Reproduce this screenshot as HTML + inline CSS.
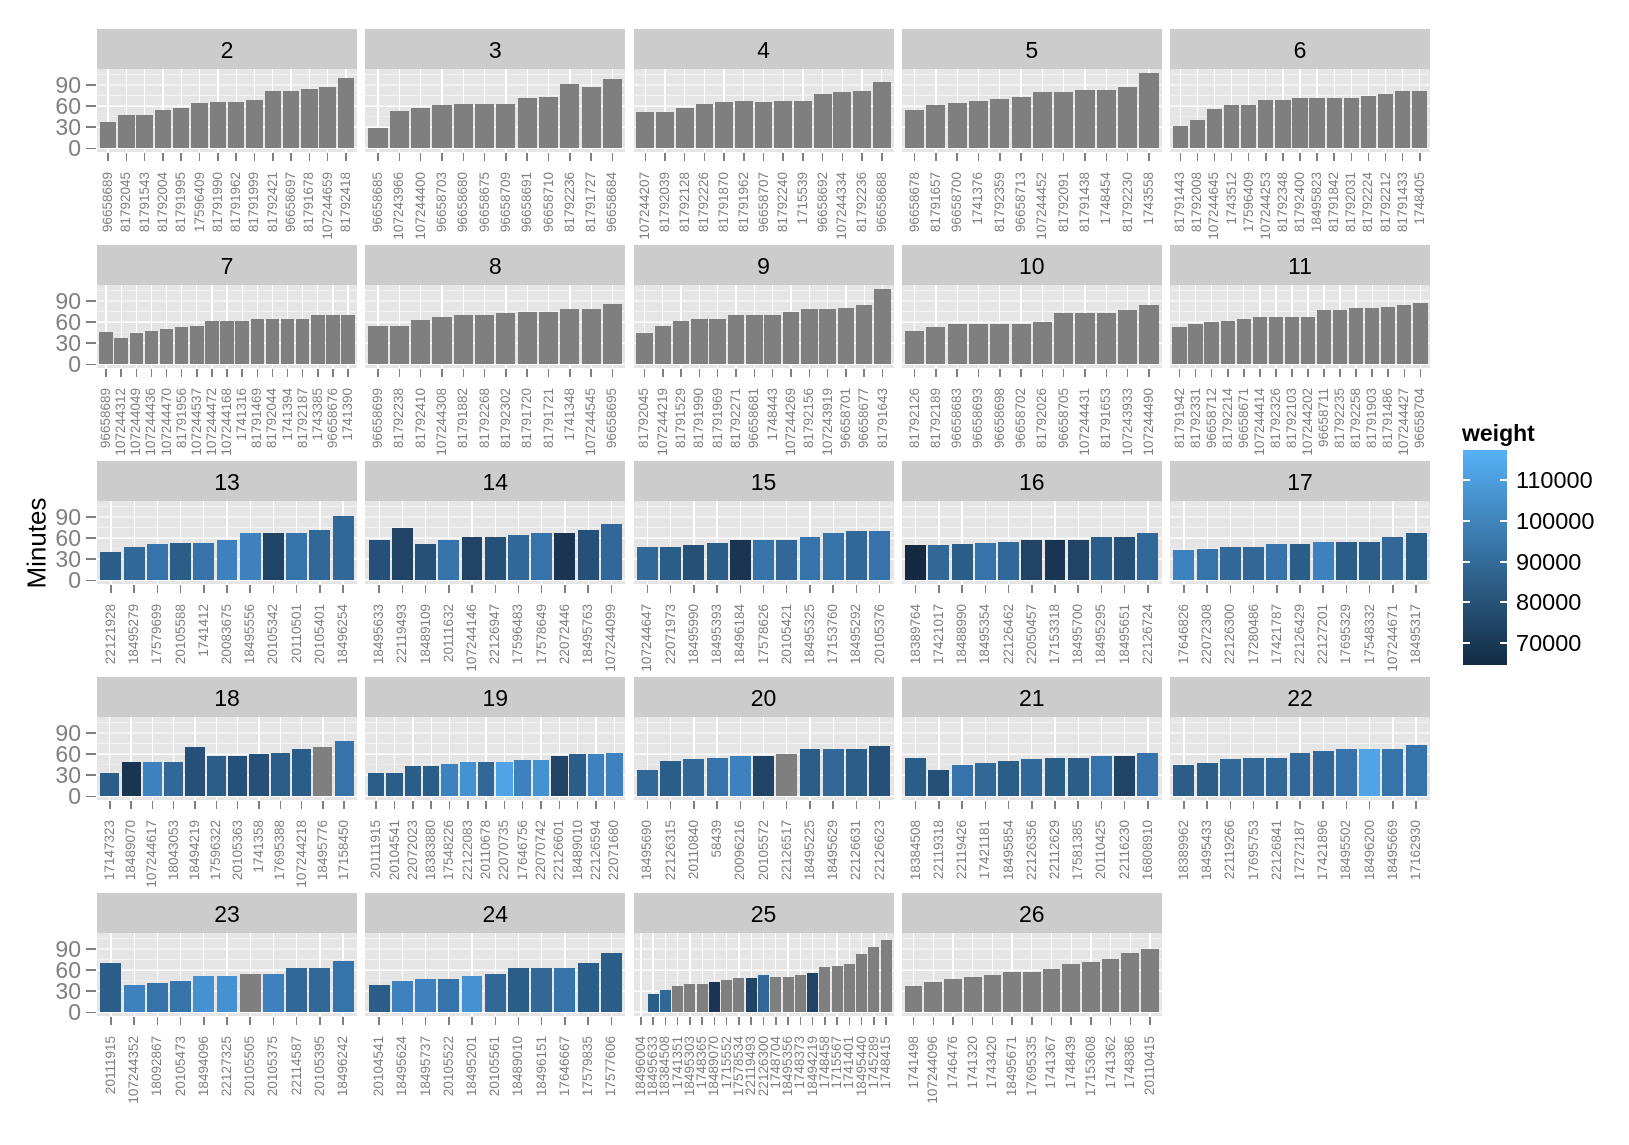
<!DOCTYPE html>
<html><head><meta charset="utf-8"><style>
body{margin:0;background:#fff;width:1629px;height:1145px;overflow:hidden;position:relative;font-family:"Liberation Sans",Arial,sans-serif}
.p{position:absolute;width:260px;height:200px}
.s{position:absolute;left:0;top:0;width:260px;height:40px;background:#ccc;text-align:center;font-size:23px;line-height:42px;color:#000}
.a{position:absolute;left:0;top:40px;width:260px;height:83px;background:#e5e5e5;overflow:hidden}
.g{position:absolute;left:0;right:0;top:0;bottom:3.05px;background:repeating-linear-gradient(to top,#fff 0 1.3px,transparent 1.3px 21.1px),repeating-linear-gradient(to top,transparent 0 10.9px,#f4f4f4 10.9px 11.6px,transparent 11.6px 21.1px)}
.b{position:absolute;left:0;right:0;top:0;bottom:0;display:flex}
.b i{flex:1 1 0;min-width:0;position:relative}
.b i::before{content:"";position:absolute;left:50%;margin-left:-.65px;width:1.3px;top:0;bottom:0;background:#fff}
.b i::after{content:"";position:absolute;left:5%;width:90%;bottom:3.7px;height:calc(var(--v)*0.7033px);background:var(--c,#7f7f7f)}
.x{position:absolute;left:0;top:123px;width:260px;display:flex;box-sizing:border-box}
.b,.x{box-sizing:border-box}
.x span{flex:1 1 0;min-width:0;display:flex;justify-content:center;align-items:flex-start;position:relative;padding-top:20px}
.x span::before{content:"";position:absolute;left:50%;margin-left:-.75px;width:1.5px;top:1px;height:8px;background:#7f7f7f}
.x em{flex:none;font-style:normal;writing-mode:vertical-rl;transform:rotate(180deg);font-size:13.5px;line-height:14px;color:#7f7f7f;white-space:nowrap}
.n11{padding:0 2.32px}.n12{padding:0 2.13px}.n13{padding:0 1.97px}.n14{padding:0 1.83px}.n15{padding:0 1.71px}.n16{padding:0 1.6px}.n17{padding:0 1.51px}.n21{padding:0 1.23px}
.yl{position:absolute;left:-64px;width:48px;text-align:right;font-size:23px;line-height:26px;color:#7f7f7f}
.yt{position:absolute;left:-11px;width:10px;height:1.5px;background:#7f7f7f}
.d1{--c:#1a3552}.d2{--c:#1f4466}.d3{--c:#255077}.m1{--c:#2b5d89}.m2{--c:#316898}.m3{--c:#3673aa}.l1{--c:#3d82bf}.l2{--c:#4592d2}.l3{--c:#4fa3e6}
</style></head><body>

<div style="position:absolute;left:37px;top:543px;transform:translate(-50%,-50%) rotate(-90deg);font-size:26px;color:#000;white-space:nowrap">Minutes</div>

<!-- legend -->
<div style="position:absolute;left:1462px;top:420px;font-size:23px;font-weight:bold;color:#000">weight</div>
<div style="position:absolute;left:1463px;top:450px;width:44px;height:215px;background:linear-gradient(to bottom,#56b1f7,#132b43)"></div>
<div style="position:absolute;left:1463px;top:479px;width:7px;height:1.5px;background:#fff"></div><div style="position:absolute;left:1500px;top:479px;width:7px;height:1.5px;background:#fff"></div>
<div style="position:absolute;left:1463px;top:520px;width:7px;height:1.5px;background:#fff"></div><div style="position:absolute;left:1500px;top:520px;width:7px;height:1.5px;background:#fff"></div>
<div style="position:absolute;left:1463px;top:561px;width:7px;height:1.5px;background:#fff"></div><div style="position:absolute;left:1500px;top:561px;width:7px;height:1.5px;background:#fff"></div>
<div style="position:absolute;left:1463px;top:601px;width:7px;height:1.5px;background:#fff"></div><div style="position:absolute;left:1500px;top:601px;width:7px;height:1.5px;background:#fff"></div>
<div style="position:absolute;left:1463px;top:642px;width:7px;height:1.5px;background:#fff"></div><div style="position:absolute;left:1500px;top:642px;width:7px;height:1.5px;background:#fff"></div>
<div style="position:absolute;left:1516px;top:466px;font-size:23.5px;line-height:28px;color:#000">110000</div>
<div style="position:absolute;left:1516px;top:507px;font-size:23.5px;line-height:28px;color:#000">100000</div>
<div style="position:absolute;left:1516px;top:548px;font-size:23.5px;line-height:28px;color:#000">90000</div>
<div style="position:absolute;left:1516px;top:588px;font-size:23.5px;line-height:28px;color:#000">80000</div>
<div style="position:absolute;left:1516px;top:629px;font-size:23.5px;line-height:28px;color:#000">70000</div>

<!-- ROW 0 -->
<div class="p" style="left:97px;top:29px"><div class="s">2</div><div class="a"><div class="g"></div><div class="b n14"><i style="--v:37"></i><i style="--v:47"></i><i style="--v:47"></i><i style="--v:55"></i><i style="--v:58"></i><i style="--v:64"></i><i style="--v:66"></i><i style="--v:66"></i><i style="--v:69"></i><i style="--v:82"></i><i style="--v:82"></i><i style="--v:85"></i><i style="--v:87"></i><i style="--v:100"></i></div></div>
<div class="x n14"><span><em>96658689</em></span><span><em>81792045</em></span><span><em>81791543</em></span><span><em>81792004</em></span><span><em>81791995</em></span><span><em>17596409</em></span><span><em>81791990</em></span><span><em>81791962</em></span><span><em>81791999</em></span><span><em>81792421</em></span><span><em>96658697</em></span><span><em>81791678</em></span><span><em>107244659</em></span><span><em>81792418</em></span></div>
<div class="yl" style="top:106px">0</div><div class="yl" style="top:85px">30</div><div class="yl" style="top:64px">60</div><div class="yl" style="top:43px">90</div>
<div class="yt" style="top:118.5px"></div><div class="yt" style="top:97.4px"></div><div class="yt" style="top:76.3px"></div><div class="yt" style="top:55.2px"></div></div>

<div class="p" style="left:365.25px;top:29px"><div class="s">3</div><div class="a"><div class="g"></div><div class="b n12"><i style="--v:29"></i><i style="--v:53"></i><i style="--v:58"></i><i style="--v:61"></i><i style="--v:63"></i><i style="--v:63"></i><i style="--v:63"></i><i style="--v:71"></i><i style="--v:73"></i><i style="--v:92"></i><i style="--v:87"></i><i style="--v:98"></i></div></div>
<div class="x n12"><span><em>96658685</em></span><span><em>107243966</em></span><span><em>107244400</em></span><span><em>96658703</em></span><span><em>96658680</em></span><span><em>96658675</em></span><span><em>96658709</em></span><span><em>96658691</em></span><span><em>96658710</em></span><span><em>81792236</em></span><span><em>81791727</em></span><span><em>96658684</em></span></div></div>

<div class="p" style="left:633.5px;top:29px"><div class="s">4</div><div class="a"><div class="g"></div><div class="b n13"><i style="--v:52"></i><i style="--v:52"></i><i style="--v:58"></i><i style="--v:63"></i><i style="--v:66"></i><i style="--v:68"></i><i style="--v:66"></i><i style="--v:68"></i><i style="--v:68"></i><i style="--v:77"></i><i style="--v:80"></i><i style="--v:82"></i><i style="--v:95"></i></div></div>
<div class="x n13"><span><em>107244207</em></span><span><em>81792039</em></span><span><em>81792128</em></span><span><em>81792226</em></span><span><em>81791870</em></span><span><em>81791962</em></span><span><em>96658707</em></span><span><em>81792240</em></span><span><em>1715539</em></span><span><em>96658692</em></span><span><em>107244334</em></span><span><em>81792236</em></span><span><em>96658688</em></span></div></div>

<div class="p" style="left:901.75px;top:29px"><div class="s">5</div><div class="a"><div class="g"></div><div class="b n12"><i style="--v:55"></i><i style="--v:62"></i><i style="--v:65"></i><i style="--v:67"></i><i style="--v:70"></i><i style="--v:73"></i><i style="--v:80"></i><i style="--v:80"></i><i style="--v:83"></i><i style="--v:83"></i><i style="--v:87"></i><i style="--v:107"></i></div></div>
<div class="x n12"><span><em>96658678</em></span><span><em>81791657</em></span><span><em>96658700</em></span><span><em>1741376</em></span><span><em>81792359</em></span><span><em>96658713</em></span><span><em>107244452</em></span><span><em>81792091</em></span><span><em>81791438</em></span><span><em>1748454</em></span><span><em>81792230</em></span><span><em>1743558</em></span></div></div>

<div class="p" style="left:1170px;top:29px"><div class="s">6</div><div class="a"><div class="g"></div><div class="b n15"><i style="--v:32"></i><i style="--v:40"></i><i style="--v:56"></i><i style="--v:61"></i><i style="--v:61"></i><i style="--v:69"></i><i style="--v:69"></i><i style="--v:71"></i><i style="--v:71"></i><i style="--v:71"></i><i style="--v:71"></i><i style="--v:74"></i><i style="--v:77"></i><i style="--v:82"></i><i style="--v:82"></i></div></div>
<div class="x n15"><span><em>81791443</em></span><span><em>81792008</em></span><span><em>107244645</em></span><span><em>1743512</em></span><span><em>17596409</em></span><span><em>107244253</em></span><span><em>81792348</em></span><span><em>81792400</em></span><span><em>18495823</em></span><span><em>81791842</em></span><span><em>81792031</em></span><span><em>81792224</em></span><span><em>81792212</em></span><span><em>81791433</em></span><span><em>1748405</em></span></div></div>

<!-- ROW 1 -->
<div class="p" style="left:97px;top:245px"><div class="s">7</div><div class="a"><div class="g"></div><div class="b n17"><i style="--v:46"></i><i style="--v:38"></i><i style="--v:44"></i><i style="--v:47"></i><i style="--v:50"></i><i style="--v:53"></i><i style="--v:55"></i><i style="--v:62"></i><i style="--v:62"></i><i style="--v:62"></i><i style="--v:65"></i><i style="--v:65"></i><i style="--v:65"></i><i style="--v:65"></i><i style="--v:70"></i><i style="--v:70"></i><i style="--v:70"></i></div></div>
<div class="x n17"><span><em>96658689</em></span><span><em>107244312</em></span><span><em>107244049</em></span><span><em>107244436</em></span><span><em>107244470</em></span><span><em>81791956</em></span><span><em>107244537</em></span><span><em>107244472</em></span><span><em>107244168</em></span><span><em>1741316</em></span><span><em>81791469</em></span><span><em>81792044</em></span><span><em>1741394</em></span><span><em>81792187</em></span><span><em>1743385</em></span><span><em>96658676</em></span><span><em>1741390</em></span></div>
<div class="yl" style="top:106px">0</div><div class="yl" style="top:85px">30</div><div class="yl" style="top:64px">60</div><div class="yl" style="top:43px">90</div>
<div class="yt" style="top:118.5px"></div><div class="yt" style="top:97.4px"></div><div class="yt" style="top:76.3px"></div><div class="yt" style="top:55.2px"></div></div>

<div class="p" style="left:365.25px;top:245px"><div class="s">8</div><div class="a"><div class="g"></div><div class="b n12"><i style="--v:55"></i><i style="--v:55"></i><i style="--v:63"></i><i style="--v:68"></i><i style="--v:70"></i><i style="--v:70"></i><i style="--v:73"></i><i style="--v:75"></i><i style="--v:75"></i><i style="--v:78"></i><i style="--v:78"></i><i style="--v:86"></i></div></div>
<div class="x n12"><span><em>96658699</em></span><span><em>81792238</em></span><span><em>81792410</em></span><span><em>107244308</em></span><span><em>81791882</em></span><span><em>81792268</em></span><span><em>81792302</em></span><span><em>81791720</em></span><span><em>81791721</em></span><span><em>1741348</em></span><span><em>107244545</em></span><span><em>96658695</em></span></div></div>

<div class="p" style="left:633.5px;top:245px"><div class="s">9</div><div class="a"><div class="g"></div><div class="b n14"><i style="--v:45"></i><i style="--v:55"></i><i style="--v:62"></i><i style="--v:65"></i><i style="--v:65"></i><i style="--v:70"></i><i style="--v:70"></i><i style="--v:70"></i><i style="--v:75"></i><i style="--v:78"></i><i style="--v:78"></i><i style="--v:80"></i><i style="--v:85"></i><i style="--v:107"></i></div></div>
<div class="x n14"><span><em>81792045</em></span><span><em>107244219</em></span><span><em>81791529</em></span><span><em>81791990</em></span><span><em>81791969</em></span><span><em>81792271</em></span><span><em>96658681</em></span><span><em>1748443</em></span><span><em>107244269</em></span><span><em>81792156</em></span><span><em>107243919</em></span><span><em>96658701</em></span><span><em>96658677</em></span><span><em>81791643</em></span></div></div>

<div class="p" style="left:901.75px;top:245px"><div class="s">10</div><div class="a"><div class="g"></div><div class="b n12"><i style="--v:47"></i><i style="--v:53"></i><i style="--v:57"></i><i style="--v:57"></i><i style="--v:57"></i><i style="--v:57"></i><i style="--v:60"></i><i style="--v:73"></i><i style="--v:73"></i><i style="--v:73"></i><i style="--v:77"></i><i style="--v:85"></i></div></div>
<div class="x n12"><span><em>81792126</em></span><span><em>81792189</em></span><span><em>96658683</em></span><span><em>96658693</em></span><span><em>96658698</em></span><span><em>96658702</em></span><span><em>81792026</em></span><span><em>96658705</em></span><span><em>107244431</em></span><span><em>81791653</em></span><span><em>107243933</em></span><span><em>107244490</em></span></div></div>

<div class="p" style="left:1170px;top:245px"><div class="s">11</div><div class="a"><div class="g"></div><div class="b n16"><i style="--v:53"></i><i style="--v:57"></i><i style="--v:60"></i><i style="--v:62"></i><i style="--v:65"></i><i style="--v:67"></i><i style="--v:67"></i><i style="--v:67"></i><i style="--v:67"></i><i style="--v:77"></i><i style="--v:77"></i><i style="--v:80"></i><i style="--v:80"></i><i style="--v:82"></i><i style="--v:85"></i><i style="--v:87"></i></div></div>
<div class="x n16"><span><em>81791942</em></span><span><em>81792331</em></span><span><em>96658712</em></span><span><em>81792214</em></span><span><em>96658671</em></span><span><em>107244414</em></span><span><em>81792326</em></span><span><em>81792103</em></span><span><em>107244202</em></span><span><em>96658711</em></span><span><em>81792235</em></span><span><em>81792258</em></span><span><em>81791903</em></span><span><em>81791486</em></span><span><em>107244427</em></span><span><em>96658704</em></span></div></div>

<!-- ROW 2 -->
<div class="p" style="left:97px;top:461px"><div class="s">13</div><div class="a"><div class="g"></div><div class="b n11"><i class="m1" style="--v:40"></i><i class="m2" style="--v:48"></i><i class="m3" style="--v:52"></i><i class="m1" style="--v:53"></i><i class="m3" style="--v:53"></i><i class="l1" style="--v:58"></i><i class="l1" style="--v:67"></i><i class="d2" style="--v:68"></i><i class="m3" style="--v:68"></i><i class="m2" style="--v:72"></i><i class="m2" style="--v:92"></i></div></div>
<div class="x n11"><span><em>22121928</em></span><span><em>18495279</em></span><span><em>17579699</em></span><span><em>20105588</em></span><span><em>1741412</em></span><span><em>20083675</em></span><span><em>18495556</em></span><span><em>20105342</em></span><span><em>20110501</em></span><span><em>20105401</em></span><span><em>18496254</em></span></div>
<div class="yl" style="top:106px">0</div><div class="yl" style="top:85px">30</div><div class="yl" style="top:64px">60</div><div class="yl" style="top:43px">90</div>
<div class="yt" style="top:118.5px"></div><div class="yt" style="top:97.4px"></div><div class="yt" style="top:76.3px"></div><div class="yt" style="top:55.2px"></div></div>

<div class="p" style="left:365.25px;top:461px"><div class="s">14</div><div class="a"><div class="g"></div><div class="b n11"><i class="d3" style="--v:58"></i><i class="d2" style="--v:75"></i><i class="d3" style="--v:52"></i><i class="m3" style="--v:57"></i><i class="d2" style="--v:62"></i><i class="d3" style="--v:62"></i><i class="m2" style="--v:65"></i><i class="m3" style="--v:67"></i><i class="d1" style="--v:67"></i><i class="d3" style="--v:72"></i><i class="m2" style="--v:80"></i></div></div>
<div class="x n11"><span><em>18495633</em></span><span><em>22119493</em></span><span><em>18489109</em></span><span><em>20111632</em></span><span><em>107244146</em></span><span><em>22126947</em></span><span><em>17596483</em></span><span><em>17578649</em></span><span><em>22072446</em></span><span><em>18495763</em></span><span><em>107244099</em></span></div></div>

<div class="p" style="left:633.5px;top:461px"><div class="s">15</div><div class="a"><div class="g"></div><div class="b n11"><i class="m2" style="--v:47"></i><i class="m1" style="--v:47"></i><i class="d3" style="--v:50"></i><i class="m1" style="--v:53"></i><i class="d1" style="--v:58"></i><i class="m3" style="--v:58"></i><i class="m2" style="--v:58"></i><i class="m3" style="--v:62"></i><i class="m3" style="--v:68"></i><i class="m2" style="--v:70"></i><i class="m3" style="--v:70"></i></div></div>
<div class="x n11"><span><em>107244647</em></span><span><em>22071973</em></span><span><em>18495990</em></span><span><em>18495393</em></span><span><em>18496184</em></span><span><em>17578626</em></span><span><em>20105421</em></span><span><em>18495325</em></span><span><em>17153760</em></span><span><em>18495292</em></span><span><em>20105376</em></span></div></div>

<div class="p" style="left:901.75px;top:461px"><div class="s">16</div><div class="a"><div class="g"></div><div class="b n11"><i style="--v:50;--c:#152a40"></i><i class="m2" style="--v:50"></i><i class="m1" style="--v:52"></i><i class="m3" style="--v:53"></i><i class="m2" style="--v:55"></i><i class="d2" style="--v:57"></i><i class="d1" style="--v:57"></i><i class="d2" style="--v:57"></i><i class="m1" style="--v:62"></i><i class="d3" style="--v:62"></i><i class="m2" style="--v:68"></i></div></div>
<div class="x n11"><span><em>18389764</em></span><span><em>17421017</em></span><span><em>18488990</em></span><span><em>18495354</em></span><span><em>22126462</em></span><span><em>22050457</em></span><span><em>17153318</em></span><span><em>18495700</em></span><span><em>18495295</em></span><span><em>18495651</em></span><span><em>22126724</em></span></div></div>

<div class="p" style="left:1170px;top:461px"><div class="s">17</div><div class="a"><div class="g"></div><div class="b n11"><i class="l1" style="--v:43"></i><i class="m3" style="--v:45"></i><i class="m2" style="--v:48"></i><i class="m2" style="--v:48"></i><i class="m3" style="--v:51"></i><i class="m1" style="--v:51"></i><i class="l1" style="--v:55"></i><i class="m1" style="--v:55"></i><i class="m1" style="--v:55"></i><i class="m2" style="--v:61"></i><i class="m1" style="--v:68"></i></div></div>
<div class="x n11"><span><em>17646826</em></span><span><em>22072308</em></span><span><em>22126300</em></span><span><em>17280486</em></span><span><em>17421787</em></span><span><em>22126429</em></span><span><em>22127201</em></span><span><em>17695329</em></span><span><em>17548332</em></span><span><em>107244671</em></span><span><em>18495317</em></span></div></div>

<!-- ROW 3 -->
<div class="p" style="left:97px;top:677px"><div class="s">18</div><div class="a"><div class="g"></div><div class="b n12"><i class="m1" style="--v:33"></i><i class="d1" style="--v:49"></i><i class="l1" style="--v:49"></i><i class="m2" style="--v:49"></i><i class="d3" style="--v:70"></i><i class="m1" style="--v:58"></i><i class="d3" style="--v:58"></i><i class="d3" style="--v:60"></i><i class="m1" style="--v:62"></i><i class="m1" style="--v:68"></i><i style="--v:70"></i><i class="m3" style="--v:78"></i></div></div>
<div class="x n12"><span><em>17147323</em></span><span><em>18489070</em></span><span><em>107244617</em></span><span><em>18043053</em></span><span><em>18494219</em></span><span><em>17596322</em></span><span><em>20105363</em></span><span><em>1741358</em></span><span><em>17695388</em></span><span><em>107244218</em></span><span><em>18495776</em></span><span><em>17158450</em></span></div>
<div class="yl" style="top:106px">0</div><div class="yl" style="top:85px">30</div><div class="yl" style="top:64px">60</div><div class="yl" style="top:43px">90</div>
<div class="yt" style="top:118.5px"></div><div class="yt" style="top:97.4px"></div><div class="yt" style="top:76.3px"></div><div class="yt" style="top:55.2px"></div></div>

<div class="p" style="left:365.25px;top:677px"><div class="s">19</div><div class="a"><div class="g"></div><div class="b n14"><i class="m1" style="--v:33"></i><i class="m1" style="--v:33"></i><i class="m1" style="--v:43"></i><i class="m1" style="--v:43"></i><i class="l1" style="--v:46"></i><i class="l2" style="--v:49"></i><i class="m2" style="--v:49"></i><i class="l3" style="--v:49"></i><i class="l1" style="--v:52"></i><i class="l2" style="--v:52"></i><i class="d2" style="--v:58"></i><i class="m1" style="--v:60"></i><i class="l1" style="--v:60"></i><i class="l1" style="--v:62"></i></div></div>
<div class="x n14"><span><em>20111915</em></span><span><em>20104541</em></span><span><em>22072023</em></span><span><em>18383880</em></span><span><em>17548226</em></span><span><em>22122083</em></span><span><em>20110678</em></span><span><em>22070735</em></span><span><em>17646756</em></span><span><em>22070742</em></span><span><em>22126601</em></span><span><em>18489010</em></span><span><em>22126594</em></span><span><em>22071680</em></span></div></div>

<div class="p" style="left:633.5px;top:677px"><div class="s">20</div><div class="a"><div class="g"></div><div class="b n11"><i class="m2" style="--v:38"></i><i class="m1" style="--v:50"></i><i class="m2" style="--v:53"></i><i class="m3" style="--v:55"></i><i class="l1" style="--v:58"></i><i class="d2" style="--v:58"></i><i style="--v:60"></i><i class="m1" style="--v:67"></i><i class="m2" style="--v:67"></i><i class="m1" style="--v:67"></i><i class="d3" style="--v:72"></i></div></div>
<div class="x n11"><span><em>18495690</em></span><span><em>22126315</em></span><span><em>20110840</em></span><span><em>58439</em></span><span><em>20096216</em></span><span><em>20105572</em></span><span><em>22126517</em></span><span><em>18495225</em></span><span><em>18495629</em></span><span><em>22126631</em></span><span><em>22126623</em></span></div></div>

<div class="p" style="left:901.75px;top:677px"><div class="s">21</div><div class="a"><div class="g"></div><div class="b n11"><i class="m1" style="--v:55"></i><i class="d3" style="--v:38"></i><i class="m3" style="--v:45"></i><i class="m2" style="--v:48"></i><i class="m1" style="--v:50"></i><i class="m2" style="--v:53"></i><i class="m1" style="--v:55"></i><i class="m1" style="--v:55"></i><i class="m3" style="--v:57"></i><i class="d2" style="--v:57"></i><i class="m3" style="--v:62"></i></div></div>
<div class="x n11"><span><em>18384508</em></span><span><em>22119318</em></span><span><em>22119426</em></span><span><em>17421181</em></span><span><em>18495854</em></span><span><em>22126356</em></span><span><em>22112629</em></span><span><em>17581385</em></span><span><em>20110425</em></span><span><em>22116230</em></span><span><em>16808910</em></span></div></div>

<div class="p" style="left:1170px;top:677px"><div class="s">22</div><div class="a"><div class="g"></div><div class="b n11"><i class="m1" style="--v:45"></i><i class="m1" style="--v:48"></i><i class="m2" style="--v:53"></i><i class="m2" style="--v:55"></i><i class="m2" style="--v:55"></i><i class="m2" style="--v:62"></i><i class="m2" style="--v:65"></i><i class="m3" style="--v:67"></i><i class="l3" style="--v:67"></i><i class="m3" style="--v:67"></i><i class="m3" style="--v:73"></i></div></div>
<div class="x n11"><span><em>18389962</em></span><span><em>18495433</em></span><span><em>22119266</em></span><span><em>17695753</em></span><span><em>22126841</em></span><span><em>17272187</em></span><span><em>17421896</em></span><span><em>18495502</em></span><span><em>18496200</em></span><span><em>18495669</em></span><span><em>17162930</em></span></div></div>

<!-- ROW 4 -->
<div class="p" style="left:97px;top:893px"><div class="s">23</div><div class="a"><div class="g"></div><div class="b n11"><i class="m1" style="--v:70"></i><i class="l1" style="--v:39"></i><i class="m3" style="--v:41"></i><i class="m3" style="--v:44"></i><i class="l2" style="--v:52"></i><i class="l2" style="--v:52"></i><i style="--v:55"></i><i class="l1" style="--v:55"></i><i class="m2" style="--v:63"></i><i class="m2" style="--v:63"></i><i class="m3" style="--v:73"></i></div></div>
<div class="x n11"><span><em>20111915</em></span><span><em>107244352</em></span><span><em>18092867</em></span><span><em>20105473</em></span><span><em>18494096</em></span><span><em>22127325</em></span><span><em>20105505</em></span><span><em>20105375</em></span><span><em>22114587</em></span><span><em>20105395</em></span><span><em>18496242</em></span></div>
<div class="yl" style="top:106px">0</div><div class="yl" style="top:85px">30</div><div class="yl" style="top:64px">60</div><div class="yl" style="top:43px">90</div>
<div class="yt" style="top:118.5px"></div><div class="yt" style="top:97.4px"></div><div class="yt" style="top:76.3px"></div><div class="yt" style="top:55.2px"></div></div>

<div class="p" style="left:365.25px;top:893px"><div class="s">24</div><div class="a"><div class="g"></div><div class="b n11"><i class="m1" style="--v:39"></i><i class="l1" style="--v:45"></i><i class="l1" style="--v:48"></i><i class="m3" style="--v:48"></i><i class="l2" style="--v:52"></i><i class="m2" style="--v:55"></i><i class="m1" style="--v:63"></i><i class="m2" style="--v:63"></i><i class="m3" style="--v:63"></i><i class="m1" style="--v:70"></i><i class="m1" style="--v:85"></i></div></div>
<div class="x n11"><span><em>20104541</em></span><span><em>18495624</em></span><span><em>18495737</em></span><span><em>20105522</em></span><span><em>18495201</em></span><span><em>20105561</em></span><span><em>18489010</em></span><span><em>18496151</em></span><span><em>17646667</em></span><span><em>17579835</em></span><span><em>17577606</em></span></div></div>

<div class="p" style="left:633.5px;top:893px"><div class="s">25</div><div class="a"><div class="g"></div><div class="b n21"><i style="--v:0"></i><i class="m1" style="--v:26"></i><i class="m2" style="--v:32"></i><i style="--v:37"></i><i style="--v:40"></i><i style="--v:40"></i><i class="d1" style="--v:43"></i><i style="--v:46"></i><i style="--v:49"></i><i class="d2" style="--v:49"></i><i class="m2" style="--v:53"></i><i style="--v:50"></i><i style="--v:50"></i><i style="--v:53"></i><i class="d2" style="--v:56"></i><i style="--v:64"></i><i style="--v:66"></i><i style="--v:69"></i><i style="--v:83"></i><i style="--v:93"></i><i style="--v:103"></i></div></div>
<div class="x n21"><span><em>18496004</em></span><span><em>18495633</em></span><span><em>18384508</em></span><span><em>1741351</em></span><span><em>18495303</em></span><span><em>1748365</em></span><span><em>18489070</em></span><span><em>1715552</em></span><span><em>17578534</em></span><span><em>22119493</em></span><span><em>22126300</em></span><span><em>1748704</em></span><span><em>18495356</em></span><span><em>1748373</em></span><span><em>18494219</em></span><span><em>1748458</em></span><span><em>1715567</em></span><span><em>1741401</em></span><span><em>18495440</em></span><span><em>1745289</em></span><span><em>1748415</em></span></div></div>

<div class="p" style="left:901.75px;top:893px"><div class="s">26</div><div class="a"><div class="g"></div><div class="b n13"><i style="--v:37"></i><i style="--v:43"></i><i style="--v:48"></i><i style="--v:50"></i><i style="--v:53"></i><i style="--v:58"></i><i style="--v:58"></i><i style="--v:61"></i><i style="--v:69"></i><i style="--v:71"></i><i style="--v:76"></i><i style="--v:85"></i><i style="--v:90"></i></div></div>
<div class="x n13"><span><em>1741498</em></span><span><em>107244096</em></span><span><em>1746476</em></span><span><em>1741320</em></span><span><em>1743420</em></span><span><em>18495671</em></span><span><em>17695335</em></span><span><em>1741367</em></span><span><em>1748439</em></span><span><em>17153608</em></span><span><em>1741362</em></span><span><em>1748386</em></span><span><em>20110415</em></span></div></div>

</body></html>
